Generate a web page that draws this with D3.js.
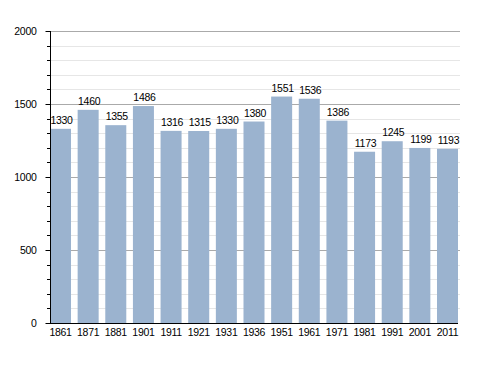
<!DOCTYPE html>
<html>
<head>
<meta charset="utf-8">
<script src="https://cdn.jsdelivr.net/npm/d3@7"></script>
<style>
  body { margin: 0; background: #fff; }
  text { font-family: "Liberation Sans", Arial, sans-serif; fill: #000; letter-spacing: -0.3px; }
</style>
</head>
<body>
<div id="chart"></div>
<script>
// Population by census year
const years = ["1861","1871","1881","1901","1911","1921","1931","1936","1951","1961","1971","1981","1991","2001","2011"];
const population = [1330,1460,1355,1486,1316,1315,1330,1380,1551,1536,1386,1173,1245,1199,1193];
const yTicks = [0,500,1000,1500,2000];

const W = 488, H = 373;
const margin = {top: 31, right: 30, bottom: 50, left: 50};
const fontSize = "10.5px";

const svg = d3.select("#chart").append("svg")
  .attr("width", W).attr("height", H);

const x = d3.scaleBand()
  .domain(years)
  .range([margin.left, 458])
  .paddingInner(0.24)
  .paddingOuter(0);

const y = d3.scaleLinear()
  .domain([0, 2000])
  .range([H - margin.bottom, margin.top]);

// minor grid every 100
const minor = d3.range(100, 2000, 100).filter(d => d % 500 !== 0);
svg.append("g").selectAll("line")
  .data(minor).enter().append("line")
  .attr("x1", margin.left).attr("x2", 460)
  .attr("y1", d => Math.round(y(d)) + 0.5).attr("y2", d => Math.round(y(d)) + 0.5)
  .style("stroke", "#e6e6e6").style("stroke-width", 1);

// major grid
svg.append("g").selectAll("line")
  .data(yTicks.filter(d => d > 0)).enter().append("line")
  .attr("x1", margin.left).attr("x2", 460)
  .attr("y1", d => Math.round(y(d)) + 0.5).attr("y2", d => Math.round(y(d)) + 0.5)
  .style("stroke", "#aaaaaa").style("stroke-width", 1);

// bars
svg.append("g").selectAll("rect")
  .data(population).enter().append("rect")
  .attr("x", (d, i) => x(years[i]))
  .attr("y", d => y(d))
  .attr("width", x.bandwidth())
  .attr("height", d => y(0) - y(d))
  .style("fill", "#9bb3cf");

// value labels
svg.append("g").selectAll("text")
  .data(population).enter().append("text")
  .attr("x", (d, i) => x(years[i]) + x.bandwidth() / 2 + 1)
  .attr("y", d => y(d) - 5)
  .attr("text-anchor", "middle")
  .style("font-size", fontSize)
  .text(d => d);

// y axis with minor ticks
svg.append("g").selectAll("line")
  .data(minor).enter().append("line")
  .attr("x1", margin.left - 3).attr("x2", margin.left)
  .attr("y1", d => Math.round(y(d)) + 0.5).attr("y2", d => Math.round(y(d)) + 0.5)
  .style("stroke", "#000");

const yAxis = d3.axisLeft(y).tickValues(yTicks).tickFormat(d3.format("d")).tickSize(5).tickPadding(9);
const gy = svg.append("g")
  .attr("transform", "translate(" + (margin.left + 0.5) + ",0)")
  .call(yAxis);
gy.select(".domain").attr("d", "M0," + (margin.top) + "V" + (y(0) + 0.5));
gy.selectAll("text").style("font-size", fontSize).attr("font-family", null);

// x axis
const xAxis = d3.axisBottom(x).tickSize(0).tickPadding(5);
const gx = svg.append("g")
  .attr("transform", "translate(0," + (Math.round(y(0)) + 0.5) + ")")
  .call(xAxis);
gx.select(".domain").attr("d", "M" + margin.left + ",0H458");
gx.selectAll("text").style("font-size", fontSize).attr("font-family", null);
</script>
</body>
</html>
